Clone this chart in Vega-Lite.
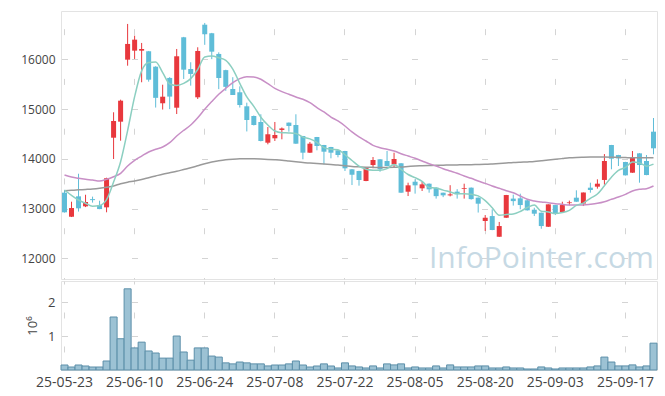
{
  "$schema": "https://vega.github.io/schema/vega-lite/v6.json",
  "padding": {"left": 20, "top": 10, "right": 8, "bottom": 5},
  "background": "white",
  "spacing": 0,
  "config": {
    "font": "Open Sans",
    "view": {"stroke": "#e3e3e3"},
    "axis": {"labelColor": "#444", "titleColor": "#444", "domain": false, "ticks": false}
  },
  "data": {"values": [
    {"d":"25-05-23","o":13320,"h":13375,"l":12920,"c":12925,"v":147000,"m5":13373,"m20":13675,"m60":13360},
    {"d":"25-05-26","o":12836,"h":13138,"l":12830,"c":13011,"v":88000,"m5":13266,"m20":13634,"m60":13368},
    {"d":"25-05-27","o":13246,"h":13700,"l":12940,"c":13005,"v":147000,"m5":13172,"m20":13608,"m60":13376},
    {"d":"25-05-28","o":13045,"h":13278,"l":13030,"c":13132,"v":118000,"m5":13106,"m20":13588,"m60":13385},
    {"d":"25-05-29","o":13190,"h":13240,"l":13120,"c":13170,"v":88000,"m5":13049,"m20":13574,"m60":13395},
    {"d":"25-05-30","o":13071,"h":13158,"l":12988,"c":12990,"v":88000,"m5":13062,"m20":13554,"m60":13410},
    {"d":"25-06-02","o":13025,"h":13620,"l":12925,"c":13610,"v":265000,"m5":13181,"m20":13588,"m60":13430},
    {"d":"25-06-04","o":14424,"h":14935,"l":13996,"c":14760,"v":1560000,"m5":13532,"m20":13640,"m60":13455},
    {"d":"25-06-05","o":14746,"h":15188,"l":14364,"c":15168,"v":920000,"m5":13940,"m20":13709,"m60":13500},
    {"d":"25-06-09","o":15992,"h":16710,"l":15871,"c":16308,"v":2390000,"m5":14567,"m20":13855,"m60":13530},
    {"d":"25-06-10","o":16173,"h":16474,"l":16006,"c":16394,"v":650000,"m5":15248,"m20":13970,"m60":13555},
    {"d":"25-06-11","o":16173,"h":16328,"l":15538,"c":16207,"v":820000,"m5":15767,"m20":14056,"m60":13585},
    {"d":"25-06-12","o":16161,"h":16167,"l":15550,"c":15590,"v":560000,"m5":15933,"m20":14137,"m60":13620},
    {"d":"25-06-13","o":15851,"h":15860,"l":15030,"c":15225,"v":500000,"m5":15945,"m20":14191,"m60":13655},
    {"d":"25-06-16","o":15116,"h":15489,"l":14990,"c":15248,"v":350000,"m5":15733,"m20":14237,"m60":13690},
    {"d":"25-06-17","o":15625,"h":15640,"l":14998,"c":15250,"v":350000,"m5":15504,"m20":14324,"m60":13720},
    {"d":"25-06-18","o":15027,"h":16207,"l":14900,"c":16060,"v":1000000,"m5":15475,"m20":14458,"m60":13750},
    {"d":"25-06-19","o":16442,"h":16450,"l":15604,"c":15791,"v":530000,"m5":15515,"m20":14573,"m60":13785},
    {"d":"25-06-20","o":15805,"h":15940,"l":15470,"c":15705,"v":290000,"m5":15611,"m20":14679,"m60":13820},
    {"d":"25-06-23","o":15236,"h":16241,"l":15202,"c":16167,"v":650000,"m5":15795,"m20":14826,"m60":13860},
    {"d":"25-06-24","o":16695,"h":16730,"l":16290,"c":16503,"v":650000,"m5":16045,"m20":14995,"m60":13900},
    {"d":"25-06-25","o":16523,"h":16530,"l":16003,"c":16153,"v":410000,"m5":16064,"m20":15150,"m60":13935},
    {"d":"25-06-26","o":16107,"h":16140,"l":15400,"c":15624,"v":380000,"m5":16030,"m20":15296,"m60":13960},
    {"d":"25-06-27","o":15782,"h":15790,"l":15366,"c":15446,"v":210000,"m5":15979,"m20":15417,"m60":13980},
    {"d":"25-06-30","o":15403,"h":15640,"l":15282,"c":15282,"v":180000,"m5":15802,"m20":15530,"m60":13992},
    {"d":"25-07-01","o":15337,"h":15456,"l":15030,"c":15081,"v":235000,"m5":15517,"m20":15610,"m60":14000},
    {"d":"25-07-02","o":15055,"h":15128,"l":14550,"c":14780,"v":210000,"m5":15243,"m20":15650,"m60":14002},
    {"d":"25-07-03","o":14860,"h":14870,"l":14670,"c":14679,"v":180000,"m5":15054,"m20":15644,"m60":14000},
    {"d":"25-07-04","o":14740,"h":14895,"l":14350,"c":14358,"v":180000,"m5":14836,"m20":15598,"m60":13995},
    {"d":"25-07-07","o":14324,"h":14639,"l":14291,"c":14493,"v":120000,"m5":14678,"m20":15510,"m60":13988},
    {"d":"25-07-08","o":14412,"h":14740,"l":14358,"c":14478,"v":147000,"m5":14558,"m20":15417,"m60":13980},
    {"d":"25-07-09","o":14580,"h":14630,"l":14392,"c":14610,"v":147000,"m5":14524,"m20":15349,"m60":13970},
    {"d":"25-07-10","o":14727,"h":14730,"l":14545,"c":14660,"v":180000,"m5":14520,"m20":15296,"m60":13955},
    {"d":"25-07-11","o":14679,"h":14895,"l":14300,"c":14304,"v":265000,"m5":14509,"m20":15242,"m60":13940},
    {"d":"25-07-14","o":14458,"h":14460,"l":13990,"c":14123,"v":147000,"m5":14435,"m20":15196,"m60":13925},
    {"d":"25-07-15","o":14123,"h":14338,"l":14118,"c":14304,"v":88000,"m5":14400,"m20":15128,"m60":13915},
    {"d":"25-07-16","o":14438,"h":14440,"l":14171,"c":14257,"v":118000,"m5":14330,"m20":15027,"m60":13905},
    {"d":"25-07-17","o":14277,"h":14280,"l":13889,"c":14143,"v":180000,"m5":14226,"m20":14941,"m60":13895},
    {"d":"25-07-18","o":14237,"h":14240,"l":14010,"c":14123,"v":118000,"m5":14190,"m20":14840,"m60":13885},
    {"d":"25-07-21","o":14171,"h":14175,"l":14030,"c":14076,"v":60000,"m5":14181,"m20":14760,"m60":13875},
    {"d":"25-07-22","o":14157,"h":14160,"l":13755,"c":13809,"v":210000,"m5":14082,"m20":14659,"m60":13860},
    {"d":"25-07-23","o":13789,"h":13795,"l":13473,"c":13680,"v":120000,"m5":13966,"m20":14540,"m60":13845},
    {"d":"25-07-24","o":13755,"h":13760,"l":13460,"c":13574,"v":90000,"m5":13852,"m20":14440,"m60":13838},
    {"d":"25-07-25","o":13554,"h":13821,"l":13550,"c":13821,"v":60000,"m5":13792,"m20":14358,"m60":13832},
    {"d":"25-07-28","o":13875,"h":14036,"l":13809,"c":13976,"v":120000,"m5":13772,"m20":14271,"m60":13828},
    {"d":"25-07-29","o":13990,"h":13995,"l":13740,"c":13789,"v":60000,"m5":13768,"m20":14223,"m60":13825},
    {"d":"25-07-30","o":13956,"h":14157,"l":13850,"c":13855,"v":180000,"m5":13803,"m20":14191,"m60":13825},
    {"d":"25-07-31","o":13889,"h":14123,"l":13821,"c":13996,"v":150000,"m5":13887,"m20":14157,"m60":13828},
    {"d":"25-08-01","o":13910,"h":13915,"l":13315,"c":13319,"v":180000,"m5":13787,"m20":14103,"m60":13835},
    {"d":"25-08-04","o":13339,"h":13520,"l":13252,"c":13467,"v":60000,"m5":13685,"m20":14056,"m60":13845},
    {"d":"25-08-05","o":13540,"h":13590,"l":13300,"c":13467,"v":90000,"m5":13621,"m20":14010,"m60":13855},
    {"d":"25-08-06","o":13407,"h":13540,"l":13353,"c":13487,"v":60000,"m5":13547,"m20":13956,"m60":13860},
    {"d":"25-08-07","o":13500,"h":13505,"l":13319,"c":13387,"v":60000,"m5":13425,"m20":13901,"m60":13865},
    {"d":"25-08-08","o":13420,"h":13425,"l":13200,"c":13250,"v":120000,"m5":13412,"m20":13855,"m60":13870},
    {"d":"25-08-11","o":13319,"h":13320,"l":13230,"c":13266,"v":60000,"m5":13371,"m20":13801,"m60":13873},
    {"d":"25-08-12","o":13265,"h":13470,"l":13245,"c":13285,"v":150000,"m5":13335,"m20":13755,"m60":13876},
    {"d":"25-08-13","o":13340,"h":13390,"l":13200,"c":13290,"v":90000,"m5":13296,"m20":13709,"m60":13878},
    {"d":"25-08-14","o":13395,"h":13500,"l":13200,"c":13410,"v":90000,"m5":13300,"m20":13654,"m60":13880},
    {"d":"25-08-18","o":13420,"h":13425,"l":13180,"c":13190,"v":90000,"m5":13288,"m20":13608,"m60":13883},
    {"d":"25-08-19","o":13219,"h":13225,"l":12920,"c":13098,"v":120000,"m5":13255,"m20":13554,"m60":13886},
    {"d":"25-08-20","o":12750,"h":12870,"l":12550,"c":12816,"v":120000,"m5":13161,"m20":13507,"m60":13890},
    {"d":"25-08-21","o":12850,"h":12985,"l":12565,"c":12569,"v":60000,"m5":13017,"m20":13453,"m60":13897},
    {"d":"25-08-22","o":12434,"h":12731,"l":12430,"c":12649,"v":60000,"m5":12864,"m20":13407,"m60":13905},
    {"d":"25-08-25","o":12816,"h":13275,"l":12812,"c":13272,"v":90000,"m5":12881,"m20":13360,"m60":13915},
    {"d":"25-08-26","o":13200,"h":13280,"l":13060,"c":13150,"v":60000,"m5":12891,"m20":13319,"m60":13925},
    {"d":"25-08-27","o":13206,"h":13299,"l":12985,"c":13071,"v":60000,"m5":12942,"m20":13252,"m60":13932},
    {"d":"25-08-28","o":13166,"h":13190,"l":12960,"c":12965,"v":30000,"m5":13021,"m20":13186,"m60":13938},
    {"d":"25-08-29","o":12977,"h":13017,"l":12850,"c":12897,"v":30000,"m5":13071,"m20":13152,"m60":13945},
    {"d":"25-09-01","o":12917,"h":12920,"l":12595,"c":12649,"v":90000,"m5":12946,"m20":13132,"m60":13960},
    {"d":"25-09-02","o":12635,"h":13085,"l":12630,"c":13085,"v":60000,"m5":12933,"m20":13118,"m60":13975},
    {"d":"25-09-03","o":13071,"h":13075,"l":12870,"c":12897,"v":30000,"m5":12899,"m20":13098,"m60":13990},
    {"d":"25-09-04","o":12931,"h":13138,"l":12928,"c":13071,"v":60000,"m5":12920,"m20":13085,"m60":14005},
    {"d":"25-09-05","o":13110,"h":13160,"l":13065,"c":13125,"v":60000,"m5":12965,"m20":13071,"m60":14020},
    {"d":"25-09-08","o":13219,"h":13367,"l":13135,"c":13138,"v":60000,"m5":13063,"m20":13071,"m60":14028},
    {"d":"25-09-09","o":13100,"h":13323,"l":13051,"c":13323,"v":60000,"m5":13111,"m20":13071,"m60":14032},
    {"d":"25-09-10","o":13420,"h":13520,"l":13319,"c":13373,"v":90000,"m5":13206,"m20":13085,"m60":14035},
    {"d":"25-09-11","o":13440,"h":13588,"l":13400,"c":13500,"v":120000,"m5":13292,"m20":13105,"m60":14036},
    {"d":"25-09-12","o":13575,"h":14095,"l":13480,"c":13956,"v":380000,"m5":13458,"m20":13138,"m60":14035},
    {"d":"25-09-15","o":14277,"h":14280,"l":13789,"c":14002,"v":235000,"m5":13631,"m20":13186,"m60":14032},
    {"d":"25-09-16","o":14076,"h":14080,"l":13855,"c":14010,"v":120000,"m5":13768,"m20":13232,"m60":14028},
    {"d":"25-09-17","o":13936,"h":13940,"l":13665,"c":13668,"v":120000,"m5":13827,"m20":13286,"m60":14025},
    {"d":"25-09-18","o":13721,"h":14157,"l":13718,"c":14036,"v":150000,"m5":13934,"m20":13353,"m60":14022},
    {"d":"25-09-19","o":14110,"h":14115,"l":13520,"c":13875,"v":90000,"m5":13918,"m20":13387,"m60":14022},
    {"d":"25-09-22","o":13956,"h":14076,"l":13670,"c":13674,"v":120000,"m5":13853,"m20":13400,"m60":14022},
    {"d":"25-09-23","o":14545,"h":14820,"l":14090,"c":14211,"v":790000,"m5":13893,"m20":13453,"m60":14022}
  ]},
  "vconcat": [
    {
      "width": 596,
      "height": 268,
      "encoding": {
        "x": {"field": "d", "type": "ordinal", "sort": null, "title": null,
          "scale": {"paddingInner": 0, "paddingOuter": 0},
          "axis": {"orient": "top", "labels": false, "ticks": false, "domain": false, "grid": true,
            "values": ["25-05-23","25-06-10","25-06-24","25-07-08","25-07-22","25-08-05","25-08-20","25-09-03","25-09-17"],
            "gridColor": "#d4d4d4", "gridDash": [6, 43.77], "gridDashOffset": 4.5}}
      },
      "layer": [
        {
          "mark": {"type": "rule", "strokeWidth": 1},
          "encoding": {
            "y": {"field": "l", "type": "quantitative", "title": null,
              "scale": {"domain": [11585, 16970], "nice": false, "zero": false},
              "axis": {"values": [12000, 13000, 14000, 15000, 16000], "format": "d", "labelFontSize": 12, "labelPadding": 6,
                "grid": true, "gridColor": "#d4d4d4", "gridDash": [6, 64], "gridDashOffset": 69.5}},
            "y2": {"field": "h"},
            "color": {"condition": {"test": "datum.c >= datum.o", "value": "#e8383d"}, "value": "#5fbdd8"}
          }
        },
        {
          "transform": [{"filter": "datum.d == '25-09-01'"}],
          "mark": {"type": "text", "fontSize": 30, "color": "#c6d9e4", "align": "center", "baseline": "alphabetic", "font": "Open Sans", "text": "InfoPointer.com"},
          "encoding": {
            "y": {"datum": 11800, "type": "quantitative"}
          }
        },
        {
          "mark": {"type": "bar", "size": 5},
          "encoding": {
            "y": {"field": "o", "type": "quantitative", "title": null},
            "y2": {"field": "c"},
            "color": {"condition": {"test": "datum.c >= datum.o", "value": "#e8383d"}, "value": "#5fbdd8"}
          }
        },
        {
          "mark": {"type": "line", "color": "#9a9a9a", "strokeWidth": 1.5, "interpolate": "monotone"},
          "encoding": {"y": {"field": "m60", "type": "quantitative", "title": null}}
        },
        {
          "mark": {"type": "line", "color": "#c88fc6", "strokeWidth": 1.5, "interpolate": "monotone"},
          "encoding": {"y": {"field": "m20", "type": "quantitative", "title": null}}
        },
        {
          "mark": {"type": "line", "color": "#8ccfc1", "strokeWidth": 1.5, "interpolate": "monotone"},
          "encoding": {"y": {"field": "m5", "type": "quantitative", "title": null}}
        }
      ]
    },
    {
      "width": 596,
      "height": 89,
      "mark": {"type": "bar", "fill": "#9cc2d4", "stroke": "#5c8fa9", "strokeWidth": 1},
      "encoding": {
        "x": {"field": "d", "type": "ordinal", "sort": null, "title": null,
          "scale": {"paddingInner": 0, "paddingOuter": 0},
          "axis": {"values": ["25-05-23","25-06-10","25-06-24","25-07-08","25-07-22","25-08-05","25-08-20","25-09-03","25-09-17"],
            "labelAngle": 0, "labelOverlap": false, "labelFontSize": 14, "labelPadding": 5,
            "grid": true, "gridColor": "#d4d4d4", "gridDash": [6, 27.97], "gridDashOffset": 2.97}},
        "y": {"field": "v", "type": "quantitative", "title": "10⁶",
          "scale": {"domain": [0, 2620000], "nice": false},
          "axis": {"values": [1000000, 2000000], "labelExpr": "datum.value / 1000000", "labelFontSize": 13, "labelPadding": 6,
            "titleFontSize": 13, "titleFontWeight": "normal", "titlePadding": 8,
            "grid": true, "gridColor": "#d4d4d4", "gridDash": [6, 64], "gridDashOffset": 69.5}}
      }
    }
  ]
}
